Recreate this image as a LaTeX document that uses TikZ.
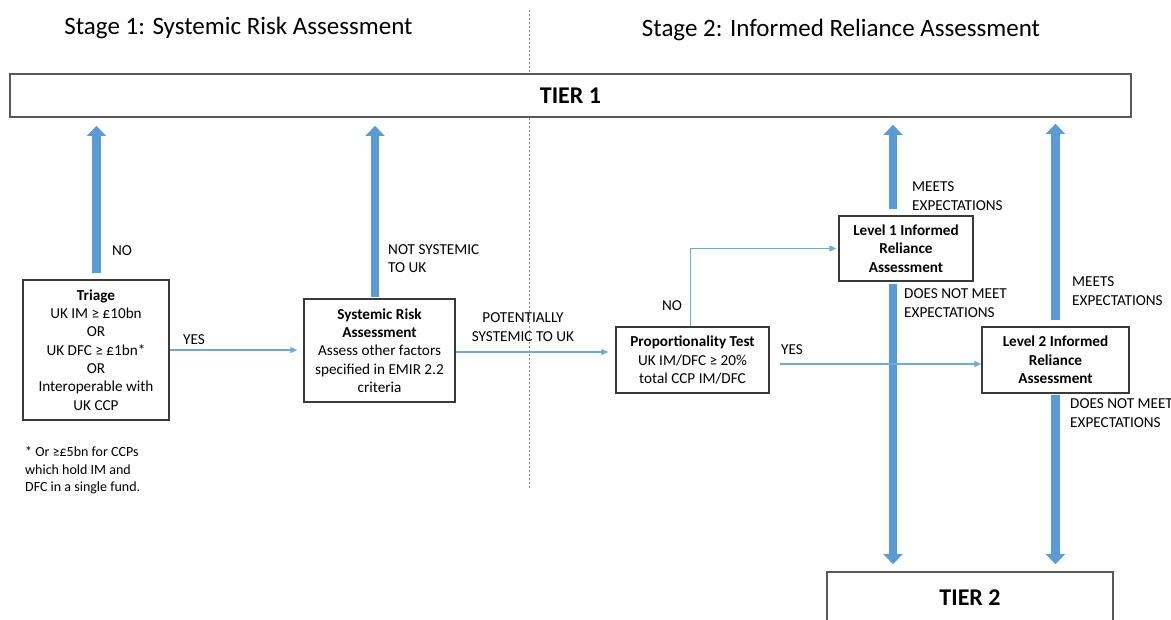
\documentclass[tikz,border=0pt]{standalone}
\usepackage{fontspec}
\setmainfont{Carlito}
\usetikzlibrary{arrows.meta}
\definecolor{bluefill}{HTML}{5B9BD5}
\definecolor{boxline}{HTML}{3A3A3A}
\definecolor{tierline}{HTML}{595959}
\definecolor{flowblue}{HTML}{6FA8DC}
\definecolor{divgray}{HTML}{8C8C8C}
\begin{document}
\begin{tikzpicture}[x=1pt,y=-1pt,
  box/.style={draw=boxline, line width=1.4pt, fill=white, align=center, inner sep=0pt,
    font=\fontsize{15.2pt}{18.3pt}\selectfont},
  tier/.style={draw=tierline, line width=1.8pt, fill=white, inner sep=0pt,
    font=\fontsize{24pt}{28pt}\selectfont\bfseries},
  lbl/.style={font=\fontsize{15.2pt}{18.5pt}\selectfont, align=left, inner sep=0pt},
  note/.style={font=\fontsize{14pt}{17.5pt}\selectfont, align=left, inner sep=0pt},
  title/.style={font=\fontsize{25pt}{29pt}\selectfont, inner sep=0pt},
  bigarrow/.style={line width=8.5pt, bluefill, -{Triangle[width=19pt,length=10pt]}},
  flow/.style={flowblue, line width=1.1pt, -{Triangle[width=6pt,length=7pt]}},
  divider/.style={divgray, line width=0.8pt, dash pattern=on 2pt off 2pt},
]
\useasboundingbox (0,0) rectangle (1171,619);
\clip (0,0) rectangle (1171,619);
\fill[white] (0,0) rectangle (1171,619);

% divider
\coordinate (dtop) at (529,10);
\coordinate (dbot) at (529,490);
\draw[divider] (dtop) -- (dbot);

% titles
\node[title] (s1) at (238.5,28) {Stage 1: Systemic Risk Assessment};
\node[title] (s2) at (841,30) {Stage 2: Informed Reliance Assessment};

% tiers
\node[tier, minimum width=1121pt, minimum height=43pt] (t1) at (570.5,95.5) {TIER 1};
\node[tier, minimum width=286pt, minimum height=52pt] (t2) at (970,598) {TIER 2};

% boxes
\node[box, minimum width=146pt, minimum height=140pt] (tri) at (96,350)
  {\textbf{Triage}\\UK IM ≥ £10bn\\OR\\UK DFC ≥ £1bn*\\OR\\Interoperable with\\UK CCP};
\node[box, minimum width=151pt, minimum height=103pt] (sra) at (379.5,350.5)
  {\textbf{Systemic Risk}\\\textbf{Assessment}\\Assess other factors\\specified in EMIR 2.2\\criteria};
\node[box, minimum width=153pt, minimum height=66pt] (pt) at (692.5,360)
  {\textbf{Proportionality Test}\\UK IM/DFC ≥ 20\%\\total CCP IM/DFC};
\node[box, minimum width=134pt, minimum height=65pt] (l1) at (906,248.5)
  {\textbf{Level 1 Informed}\\\textbf{Reliance}\\\textbf{Assessment}};
\node[box, minimum width=147pt, minimum height=66pt] (l2) at (1055.5,360)
  {\textbf{Level 2 Informed}\\\textbf{Reliance}\\\textbf{Assessment}};

% footnote
\node[note, anchor=west] (fn) at (25,470.5)
  {* Or ≥£5bn for CCPs\\which hold IM and\\DFC in a single fund.};

% thick arrows
\draw[bigarrow] ([xshift=0.5pt,yshift=6pt]tri.north) -- ([xshift=0.5pt,yshift=-8pt]tri.north |- t1.south);
\draw[bigarrow] ([xshift=-4.5pt,yshift=1pt]sra.north) -- ([xshift=-4.5pt,yshift=-8pt]sra.north |- t1.south);
\draw[bigarrow] ([xshift=-13pt,yshift=6pt]l1.north) -- ([xshift=-13pt,yshift=-7pt]l1.north |- t1.south);
\draw[bigarrow] ([xshift=-13pt,yshift=-2pt]l1.south) -- ([xshift=-13pt,yshift=7pt]l1.south |- t2.north);
\draw[bigarrow] ([yshift=6pt]l2.north) -- ([yshift=-6pt]l2.north |- t1.south);
\draw[bigarrow] ([yshift=-1pt]l2.south) -- ([yshift=7pt]l2.south |- t2.north);

% thin flow arrows
\draw[flow] (tri.east) -- ([xshift=-6pt]sra.west |- tri.east);
\draw[flow] ([yshift=-1.5pt]sra.east) -- ([xshift=-7pt,yshift=-1.5pt]pt.west |- sra.east);
\draw[flow] ([xshift=-2pt]pt.north) |- ([xshift=-2pt]l1.west);
\draw[flow] ([xshift=10pt,yshift=-4pt]pt.east) -- ([yshift=-4pt]l2.west);

% labels
\node[lbl] (lno1) at (122,251) {NO};
\node[lbl] (lyes1) at (194,340) {YES};
\node[lbl, anchor=west] (lnotsys) at (388,258.5) {NOT SYSTEMIC\\TO UK};
\node[lbl, align=center] (lpot) at (523,327) {POTENTIALLY\\SYSTEMIC TO UK};
\node[lbl] (lno2) at (672,306) {NO};
\node[lbl] (lyes2) at (792,350) {YES};
\node[lbl, anchor=west] (lmeet1) at (912,196) {MEETS\\EXPECTATIONS};
\node[lbl, anchor=west] (ldnm1) at (904,303) {DOES NOT MEET\\EXPECTATIONS};
\node[lbl, anchor=west] (lmeet2) at (1072,291) {MEETS\\EXPECTATIONS};
\node[lbl, anchor=west] (ldnm2) at (1070,413) {DOES NOT MEET\\EXPECTATIONS};
\end{tikzpicture}
\end{document}
